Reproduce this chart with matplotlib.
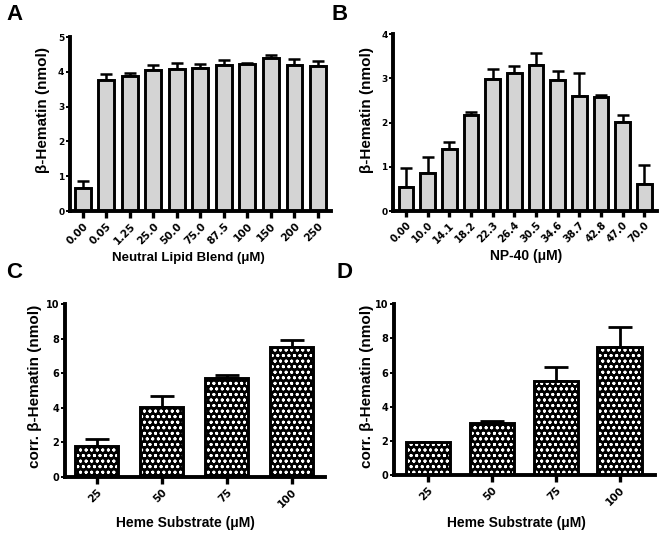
import matplotlib
matplotlib.use("Agg")
import matplotlib.pyplot as plt
import numpy as np

plt.rcParams['font.family'] = ['Liberation Sans', 'DejaVu Sans']
plt.rcParams['hatch.linewidth'] = 0.6

# Panel A
a_labels = ["0.00", "0.05", "1.25", "25.0", "50.0", "75.0", "87.5", "100", "150", "200", "250"]
a_vals = [0.65, 3.77, 3.88, 4.06, 4.08, 4.10, 4.19, 4.23, 4.41, 4.20, 4.18]
a_err = [0.20, 0.17, 0.10, 0.14, 0.17, 0.13, 0.16, 0.02, 0.08, 0.17, 0.12]

# Panel B
b_labels = ["0.00", "10.0", "14.1", "18.2", "22.3", "26.4", "30.5", "34.6", "38.7", "42.8", "47.0", "70.0"]
b_vals = [0.54, 0.85, 1.41, 2.17, 2.99, 3.12, 3.30, 2.96, 2.60, 2.58, 2.02, 0.60]
b_err = [0.43, 0.37, 0.16, 0.06, 0.22, 0.16, 0.28, 0.21, 0.52, 0.05, 0.15, 0.44]

# Panel C
c_labels = ["25", "50", "75", "100"]
c_vals = [1.80, 4.05, 5.70, 7.53]
c_err = [0.42, 0.62, 0.19, 0.39]

# Panel D
d_labels = ["25", "50", "75", "100"]
d_vals = [1.91, 3.06, 5.48, 7.49]
d_err = [0.04, 0.10, 0.86, 1.15]

fig = plt.figure(figsize=(6.64, 5.37), dpi=100)

SPINE_LW = 2.8
BAR_LW = 2.1
TICKFONT = ['DejaVu Sans']


def style_axes(ax, ylim, yticks, labels, xlim, ytick_fs, xtick_fs, xtick_len):
    ax.set_ylim(*ylim)
    ax.set_xlim(*xlim)
    for s in ['top', 'right']:
        ax.spines[s].set_visible(False)
    for s in ['left', 'bottom']:
        ax.spines[s].set_linewidth(SPINE_LW)
    ax.set_yticks(yticks)
    ax.set_yticklabels([str(t) for t in yticks], fontsize=ytick_fs,
                       fontweight='bold', family=TICKFONT)
    ax.set_xticks(np.arange(len(labels)))
    ax.set_xticklabels(labels, rotation=45, ha='right', rotation_mode='anchor',
                       fontsize=xtick_fs, fontweight='bold', family=TICKFONT)
    ax.tick_params(axis='x', length=xtick_len, width=2.4, pad=2.5)
    ax.tick_params(axis='y', length=3.0, width=1.4, pad=1)


def set_labels(ax, ylabel, xlabel, ylab_xy, xlab_xy, xfs):
    ax.set_ylabel(ylabel, fontsize=11, fontweight='bold')
    ax.yaxis.set_label_coords(*ylab_xy)
    ax.set_xlabel(xlabel, fontsize=xfs, fontweight='bold')
    ax.xaxis.set_label_coords(*xlab_xy)
    ax.xaxis.label.set_va('center')


def gray_bars(ax, vals, err, width):
    x = np.arange(len(vals))
    ax.errorbar(x, vals, yerr=[np.zeros(len(vals)), err], fmt='none',
                ecolor='black', elinewidth=1.8, capsize=4, capthick=1.8, zorder=1)
    ax.bar(x, vals, width=width, color='#d4d4d4', edgecolor='black',
           linewidth=BAR_LW, zorder=2)


def dotted_bars(ax, vals, err, width):
    x = np.arange(len(vals))
    ax.errorbar(x, vals, yerr=[np.zeros(len(vals)), err], fmt='none',
                ecolor='black', elinewidth=2.0, capsize=8.5, capthick=2.0, zorder=1)
    ax.bar(x, vals, width=width, color='black', edgecolor='white', hatch='ooo...',
           linewidth=0, zorder=2)
    ax.bar(x, vals, width=width, fill=False, edgecolor='black',
           linewidth=BAR_LW, zorder=3)


# A
axA = fig.add_axes([0.1054, 0.607, 0.393, 0.324])
gray_bars(axA, a_vals, a_err, 0.68)
style_axes(axA, (0, 5), [0, 1, 2, 3, 4, 5], a_labels, (-0.55, 10.55), 6.5, 7.5, 5)
set_labels(axA, "β-Hematin (nmol)", "Neutral Lipid Blend (μM)",
           (-0.077, 0.58), (0.452, -0.272), 9.5)

# B
axB = fig.add_axes([0.592, 0.607, 0.398, 0.3296])
gray_bars(axB, b_vals, b_err, 0.68)
style_axes(axB, (0, 4), [0, 1, 2, 3, 4], b_labels, (-0.6, 11.6), 6.5, 7.2, 4)
set_labels(axB, "β-Hematin (nmol)", "NP-40 (μM)",
           (-0.072, 0.57), (0.504, -0.255), 10)

# C
axC = fig.add_axes([0.0979, 0.1117, 0.3916, 0.322])
dotted_bars(axC, c_vals, c_err, 0.66)
style_axes(axC, (0, 10), [0, 2, 4, 6, 8, 10], c_labels, (-0.49, 3.51), 7, 7.5, 5)
set_labels(axC, "corr. β-Hematin (nmol)", "Heme Substrate (μM)",
           (-0.088, 0.526), (0.465, -0.266), 10)

# D
axD = fig.add_axes([0.593, 0.1155, 0.393, 0.318])
dotted_bars(axD, d_vals, d_err, 0.69)
style_axes(axD, (0, 10), [0, 2, 4, 6, 8, 10], d_labels, (-0.53, 3.55), 7, 7.5, 5)
set_labels(axD, "corr. β-Hematin (nmol)", "Heme Substrate (μM)",
           (-0.077, 0.52), (0.471, -0.28), 10)

# Panel letters
for lab, (px, py) in zip("ABCD", [(14.5, 15), (340, 15), (14, 273), (344, 272)]):
    fig.text(px / 664, 1 - py / 537, lab, fontsize=16, fontweight='bold',
             ha='center', va='center')

fig.savefig("out.png", dpi=100)
